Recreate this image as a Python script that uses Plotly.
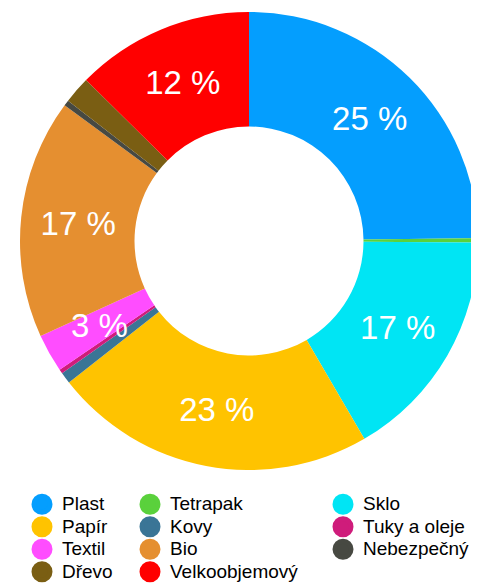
import math
import plotly.graph_objects as go

categories = ["Plast", "Tetrapak", "Sklo", "Papír", "Kovy", "Tuky a oleje",
              "Textil", "Bio", "Nebezpečný", "Dřevo", "Velkoobjemový"]
values = [24.8, 0.3, 16.5, 22.8, 0.8, 0.3, 2.7, 16.9, 0.4, 1.9, 12.6]
labels = ["25 %", "", "17 %", "23 %", "", "", "3 %", "17 %", "", "", "12 %"]
colors = ["#049EFE", "#5AD13C", "#00E5F4", "#FFC300", "#3A7596", "#CF1C7B",
          "#FF4DFF", "#E58F30", "#474942", "#7A5E13", "#FF0000"]

# legend layout: three columns (row-major order of categories)
legend_cols = [["Plast", "Papír", "Textil", "Dřevo"],
               ["Tetrapak", "Kovy", "Bio", "Velkoobjemový"],
               ["Sklo", "Tuky a oleje", "Nebezpečný"]]

FONT = "Liberation Sans, Arial, Helvetica, sans-serif"
# the page body has an 8px default margin, so the figure is a bit smaller
OFF = 8
W, H = 479 - OFF, 584 - OFF
LABEL_SIZE = 33

# pie box (figure pixels): outer circle fits in this square
dom_x = [(20 - OFF) / W, (478 - OFF) / W]
dom_y = [(H - (470 - OFF)) / H, (H - (12 - OFF)) / H]
HOLE = 0.5

# labels that don't fit inside their slice are drawn as annotations at the
# slice's mid angle (computed from the data), the rest are drawn by the pie
small_label = [lab != "" and v < 5 for lab, v in zip(labels, values)]
pie_text = [("" if s else lab) for lab, s in zip(labels, small_label)]

fig = go.Figure()
fig.add_trace(go.Pie(
    labels=categories, values=values, text=pie_text,
    textinfo="text", textposition="inside", insidetextorientation="horizontal",
    textfont=dict(color="white", size=LABEL_SIZE, family=FONT),
    marker=dict(colors=colors, line=dict(width=0)),
    hole=HOLE, sort=False, direction="clockwise", rotation=0,
    showlegend=False, domain=dict(x=dom_x, y=dom_y),
))

total = sum(values)
cx_px = (dom_x[0] + dom_x[1]) / 2 * W
cy_px = (1 - (dom_y[0] + dom_y[1]) / 2) * H
r_out = min((dom_x[1] - dom_x[0]) * W, (dom_y[1] - dom_y[0]) * H) / 2
r_mid = r_out * (1 + HOLE) / 2
cum = 0.0
for v, lab, s in zip(values, labels, small_label):
    mid = (cum + v / 2) / total * 2 * math.pi
    cum += v
    if not s:
        continue
    x_px = cx_px + r_mid * math.sin(mid)
    y_px = cy_px - r_mid * math.cos(mid)
    fig.add_annotation(x=x_px / W, y=1 - y_px / H, xref="paper", yref="paper",
                       xanchor="center", yanchor="middle",
                       text=lab, showarrow=False,
                       font=dict(color="white", size=LABEL_SIZE, family=FONT))

cmap = dict(zip(categories, colors))
legend_names = ["legend", "legend2", "legend3"]
for col, lname in zip(legend_cols, legend_names):
    for name in col:
        fig.add_trace(go.Scatter(
            x=[None], y=[None], mode="markers",
            name=f'<span style="font-size:19px">{name}</span>',
            marker=dict(symbol="circle", size=16, color=cmap[name],
                        line=dict(width=5, color=cmap[name])),
            legend=lname, showlegend=True,
        ))

leg_common = dict(font=dict(size=15, family=FONT, color="black"),
                  orientation="v", yanchor="top", y=(H - 480) / H,
                  xanchor="left",
                  bgcolor="rgba(0,0,0,0)", tracegroupgap=0, itemsizing="trace")
fig.update_layout(
    width=W, height=H,
    margin=dict(l=0, r=0, t=0, b=0, autoexpand=False),
    paper_bgcolor="white", plot_bgcolor="white",
    xaxis=dict(visible=False), yaxis=dict(visible=False),
    legend=dict(x=14 / W, **leg_common),
    legend2=dict(x=122 / W, **leg_common),
    legend3=dict(x=315 / W, **leg_common),
)

fig.write_html("out.html")
